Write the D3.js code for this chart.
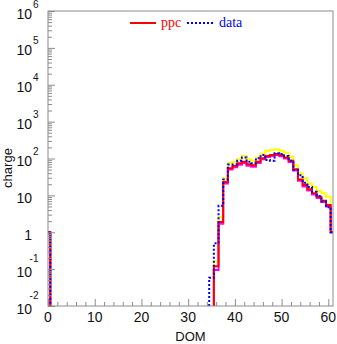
<!DOCTYPE html>
<html>
<head>
<meta charset="utf-8">
<script src="https://cdn.jsdelivr.net/npm/d3@7/dist/d3.min.js"></script>
<style>
  body { margin: 0; background: #fff; }
  text { font-family: "Liberation Sans", Arial, sans-serif; }
</style>
</head>
<body>
<svg id="chart" width="337" height="344"></svg>
<script>
// DOM index of each bin (bin i covers i-0.5 .. i+0.5)
const doms = d3.range(0, 62);

// Charge per DOM
const ppc = [1,
  0,0,0,0,0,0,0,0,0,0, 0,0,0,0,0,0,0,0,0,0, 0,0,0,0,0,0,0,0,0,0, 0,0,0,0,0,
  0.12, 1.9, 23, 54, 63, 74, 82, 70, 66, 82, 101, 117, 124, 132, 122, 107, 87,
  51, 27, 19, 14.6, 11.4, 9.2, 7.2, 5.5, 1];
const ppcHigh = [1,
  0,0,0,0,0,0,0,0,0,0, 0,0,0,0,0,0,0,0,0,0, 0,0,0,0,0,0,0,0,0,0, 0,0,0,0,0,
  0.16, 2.6, 29, 74, 82, 95, 117, 95, 87, 107, 132, 163, 170, 178, 163, 144, 112,
  66, 40, 29, 21, 17, 13.4, 11.4, 9.2, 1];
const ppcLow = [1,
  0,0,0,0,0,0,0,0,0,0, 0,0,0,0,0,0,0,0,0,0, 0,0,0,0,0,0,0,0,0,0, 0,0,0,0,0,
  0.095, 1.7, 21, 50, 58, 68, 76, 64, 60, 76, 95, 110, 117, 124, 115, 100, 80,
  47, 25, 17.5, 13.5, 10.5, 8.5, 6.6, 5.0, 1];
const data = [1,
  0,0,0,0,0,0,0,0,0,0, 0,0,0,0,0,0,0,0,0,0, 0,0,0,0,0,0,0,0,0,0, 0,0,0,0,
  0.058, 0.5, 5.2, 27, 69, 69, 87, 107, 82, 74, 101, 124, 91, 87, 138, 132, 117, 87,
  49, 35, 22, 17, 12.6, 9.6, 6.8, 4.8, 1];

// Axis ticks and labels
const xMajor = [0, 10, 20, 30, 40, 50, 60];
const xMinor = [2, 4, 6, 8, 12, 14, 16, 18, 22, 24, 26, 28, 32, 34, 36, 38,
                42, 44, 46, 48, 52, 54, 56, 58];
const yExponents = [-2, -1, 0, 1, 2, 3, 4, 5, 6];

const frame = { left: 48, right: 333, top: 11, bottom: 306 };
const svg = d3.select("#chart");

const x = d3.scaleLinear().domain([0, 61]).range([frame.left, frame.right]);
const y = d3.scaleLog().domain([1e-2, 1e6]).range([frame.bottom, frame.top]);

svg.append("defs").append("clipPath").attr("id", "plot")
  .append("rect").attr("x", frame.left).attr("y", frame.top)
  .attr("width", frame.right - frame.left).attr("height", frame.bottom - frame.top);

// Step outline: each run of non-empty bins rises from the frame floor and falls back to it
function stepPoints(values) {
  const pts = [];
  const floor = y.domain()[0];
  let open = false;
  doms.forEach((d, i) => {
    const v = values[i];
    if (v > 0) {
      if (!open) { pts.push(null); pts.push([d - 0.5, floor]); open = true; }
      pts.push([d - 0.5, v], [d + 0.5, v]);
    } else if (open) {
      pts.push([d - 0.5, floor]);
      open = false;
    }
  });
  if (open) pts.push([doms[doms.length - 1] + 0.5, floor]);
  return pts;
}
const line = d3.line().defined(p => p !== null)
  .x(p => x(p[0])).y(p => y(p[1]));

const hist = svg.append("g").attr("clip-path", "url(#plot)");
const series = [
  { values: ppcHigh, color: "#ffff00", dash: null },
  { values: ppcLow, color: "#ff00ff", dash: null },
  { values: ppc, color: "#ff0000", dash: null },
  { values: data, color: "#0000ff", dash: "2,2" }
];
series.forEach(s => {
  hist.append("path")
    .attr("d", line(stepPoints(s.values)))
    .attr("fill", "none")
    .attr("stroke", s.color)
    .attr("stroke-width", 2)
    .attr("stroke-dasharray", s.dash);
});

// Frame and ticks
const axisColor = "#8c8c8c";
const yMinor = [];
yExponents.slice(0, -1).forEach(e => {
  for (let k = 2; k <= 9; k++) yMinor.push(k * Math.pow(10, e));
});

function styleAxis(g) {
  g.select(".domain").remove();
  g.selectAll("line").attr("stroke", axisColor);
}
svg.append("g").attr("transform", `translate(${frame.left},0)`)
  .call(d3.axisRight(y).tickValues(yExponents.map(e => Math.pow(10, e)))
    .tickSize(7).tickFormat(""))
  .call(styleAxis);
svg.append("g").attr("transform", `translate(${frame.left},0)`)
  .call(d3.axisRight(y).tickValues(yMinor).tickSize(4).tickFormat(""))
  .call(styleAxis);
svg.append("g").attr("transform", `translate(0,${frame.bottom})`)
  .call(d3.axisTop(x).tickValues(xMajor).tickSize(7).tickFormat(""))
  .call(styleAxis);
svg.append("g").attr("transform", `translate(0,${frame.bottom})`)
  .call(d3.axisTop(x).tickValues(xMinor).tickSize(4).tickFormat(""))
  .call(styleAxis);

svg.append("rect")
  .attr("x", frame.left).attr("y", frame.top)
  .attr("width", frame.right - frame.left).attr("height", frame.bottom - frame.top)
  .attr("fill", "none").attr("stroke", axisColor).attr("stroke-width", 1);

// X tick labels
svg.append("g").selectAll("text").data(xMajor).join("text")
  .attr("x", d => x(d)).attr("y", frame.bottom + 16)
  .attr("text-anchor", "middle").attr("font-size", 14).attr("fill", "#111")
  .text(d => d);

// Y tick labels: 1, 10 and powers of ten with a raised exponent
const yl = svg.append("g");
yExponents.forEach(e => {
  const ty = y(Math.pow(10, e)) + 7.5;
  const base = e === 0 ? "1" : "10";
  yl.append("text").attr("x", 32).attr("y", ty)
    .attr("text-anchor", "end").attr("font-size", 14).attr("fill", "#111")
    .text(base);
  if (e !== 0 && e !== 1) {
    yl.append("text").attr("x", 38.5).attr("y", ty - (e < 0 ? 15 : 11))
      .attr("text-anchor", "end").attr("font-size", 10).attr("fill", "#111")
      .text(e);
  }
});

// Axis titles
svg.append("text")
  .attr("x", (frame.left + frame.right) / 2).attr("y", 341)
  .attr("text-anchor", "middle").attr("font-size", 13).attr("fill", "#111")
  .text("DOM");
svg.append("text")
  .attr("transform", "translate(12,168) rotate(-90)")
  .attr("text-anchor", "middle").attr("font-size", 13).attr("fill", "#111")
  .text("charge");

// Legend
const legend = svg.append("g")
  .style("font-family", '"Liberation Serif", "Times New Roman", serif');
legend.append("line").attr("x1", 130).attr("x2", 156).attr("y1", 23).attr("y2", 23)
  .attr("stroke", "#ff0000").attr("stroke-width", 2);
legend.append("text").attr("x", 161).attr("y", 27).attr("font-size", 14)
  .attr("fill", "#ff0000").style("font-family", "inherit").text("ppc");
legend.append("line").attr("x1", 187).attr("x2", 214).attr("y1", 23).attr("y2", 23)
  .attr("stroke", "#0000ff").attr("stroke-width", 2).attr("stroke-dasharray", "2,2");
legend.append("text").attr("x", 219).attr("y", 27).attr("font-size", 14)
  .attr("fill", "#0000ff").style("font-family", "inherit").text("data");
</script>
</body>
</html>
